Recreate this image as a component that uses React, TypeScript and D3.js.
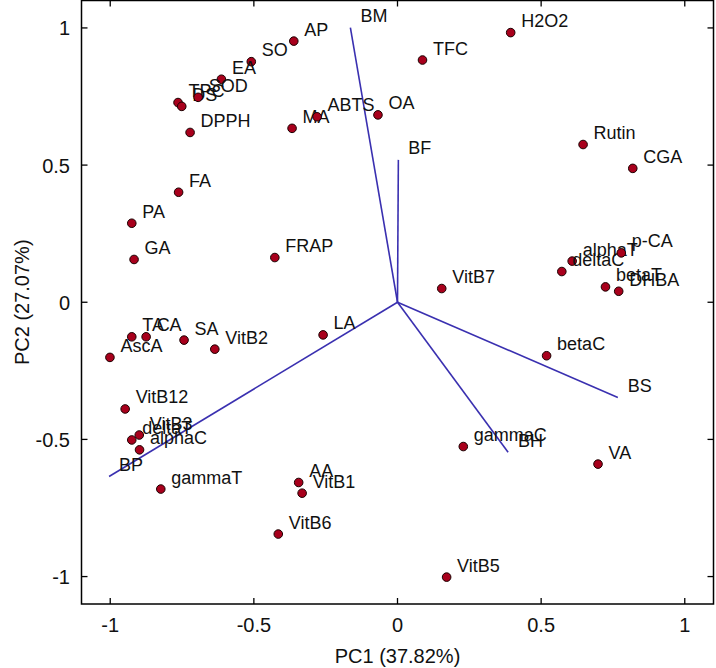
import React from "react";
import * as d3 from "d3";

const pointNames = ["H2O2","TFC","Rutin","CGA","OA","AP","SO","EA","TPC","DS","SOD","MA","ABTS","DPPH","FA","PA","GA","FRAP","LA","VitB2","SA","TA","CA","AscA","betaC","VitB7","alphaT","deltaC","p-CA","betaT","DHBA","gammaC","VA","VitB5","VitB12","VitB3","deltaT","alphaC","gammaT","AA","VitB1","VitB6"];
const pointPC1 = [0.394,0.087,0.646,0.819,-0.068,-0.361,-0.509,-0.613,-0.764,-0.751,-0.694,-0.367,-0.280,-0.722,-0.762,-0.925,-0.917,-0.427,-0.259,-0.636,-0.743,-0.925,-0.875,-1.001,0.519,0.154,0.608,0.572,0.779,0.724,0.770,0.229,0.698,0.171,-0.948,-0.899,-0.925,-0.898,-0.824,-0.344,-0.332,-0.415];
const pointPC2 = [0.983,0.883,0.575,0.488,0.683,0.952,0.877,0.813,0.728,0.714,0.747,0.634,0.676,0.619,0.401,0.288,0.156,0.163,-0.119,-0.171,-0.138,-0.126,-0.126,-0.201,-0.195,0.050,0.150,0.112,0.180,0.056,0.040,-0.526,-0.590,-1.002,-0.389,-0.484,-0.502,-0.538,-0.681,-0.657,-0.696,-0.845];

const vectorNames = ["BM","BF","BS","BH","BP"];
const vectorPC1 = [-0.164,0.003,0.767,0.385,-1.004];
const vectorPC2 = [1.001,0.519,-0.347,-0.547,-0.635];

const xTicks = [-1,-0.5,0,0.5,1];
const yTicks = [-1,-0.5,0,0.5,1];
const xTitle = "PC1 (37.82%)";
const yTitle = "PC2 (27.07%)";

const W = 716, H = 668;
const L = 81.5, R = 713.5, T = 0.5, B = 604;
const FONT = "'Liberation Sans', Arial, Helvetica, sans-serif";

export default function App() {
  const x = d3.scaleLinear().domain([-1.1, 1.1]).range([L, R]);
  const y = d3.scaleLinear().domain([-1.1, 1.1]).range([B, T]);
  const tickLen = 6;
  const fmt = (v: number) => (v === 0 ? "0" : String(v));
  return (
    <svg width={W} height={H} style={{ position: "absolute", left: 0, top: 0, background: "#fff" }} fontFamily={FONT}>
      <rect x={0} y={0} width={W} height={H} fill="#fff" />
      {/* vectors */}
      {vectorNames.map((n, i) => (
        <g key={n}>
          <line x1={x(0)} y1={y(0)} x2={x(vectorPC1[i])} y2={y(vectorPC2[i])} stroke="#3a30b0" strokeWidth={1.6} />
          <text x={x(vectorPC1[i]) + 10} y={y(vectorPC2[i]) - 5.5} fontSize={18} fill="#111">{n}</text>
        </g>
      ))}
      {/* points */}
      {pointNames.map((n, i) => (
        <g key={n}>
          <circle cx={x(pointPC1[i])} cy={y(pointPC2[i])} r={4.3} fill="#a8001c" stroke="#1a0000" strokeWidth={1} />
          <text x={x(pointPC1[i]) + 10.5} y={y(pointPC2[i]) - 5.5} fontSize={18} fill="#111">{n}</text>
        </g>
      ))}
      {/* frame */}
      <rect x={L} y={T} width={R - L} height={B - T} fill="none" stroke="#000" strokeWidth={1.5} />
      {xTicks.map((t) => (
        <g key={"x" + t}>
          <line x1={x(t)} x2={x(t)} y1={B} y2={B - tickLen} stroke="#000" strokeWidth={1.3} />
          <line x1={x(t)} x2={x(t)} y1={T} y2={T + tickLen} stroke="#000" strokeWidth={1.3} />
          <text x={x(t)} y={632} fontSize={20} textAnchor="middle" fill="#111">{fmt(t)}</text>
        </g>
      ))}
      {yTicks.map((t) => (
        <g key={"y" + t}>
          <line x1={L} x2={L + tickLen} y1={y(t)} y2={y(t)} stroke="#000" strokeWidth={1.3} />
          <line x1={R} x2={R - tickLen} y1={y(t)} y2={y(t)} stroke="#000" strokeWidth={1.3} />
          <text x={70} y={y(t) + 7.5} fontSize={20} textAnchor="end" fill="#111">{fmt(t)}</text>
        </g>
      ))}
      <text x={(L + R) / 2} y={663} fontSize={20} textAnchor="middle" fill="#111">{xTitle}</text>
      <text transform={`translate(29, ${(T + B) / 2}) rotate(-90)`} fontSize={20} textAnchor="middle" fill="#111">{yTitle}</text>
    </svg>
  );
}
